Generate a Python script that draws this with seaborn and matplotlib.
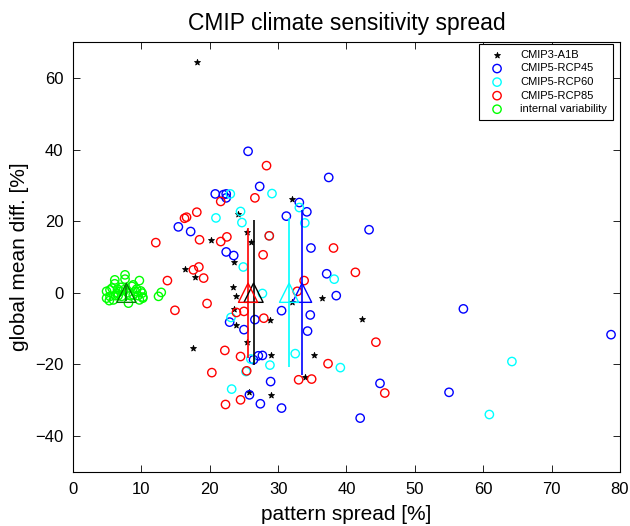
#%% import required libraries
import numpy as np
import pandas as pd
import matplotlib
matplotlib.use("Agg")
import matplotlib.pyplot as plt
import seaborn as sns

##############################################################################
# data
##############################################################################

# CMIP3-A1B
cmip3_x = [18.2, 32.1, 24.1, 25.4, 20.2, 26.1, 23.6, 16.4, 17.8, 23.4, 23.9, 23.6,
           23.9, 28.8, 25.4, 17.6, 28.9, 25.8, 28.9, 32.0, 36.4, 42.2, 35.2, 33.9]
cmip3_y = [64.5, 26.1, 22.0, 17.0, 14.8, 14.3, 8.7, 6.6, 4.4, 1.5, -1.0, -4.5,
           -9.1, -7.5, -13.8, -15.5, -17.5, -27.6, -28.5, -2.7, -1.6, -7.3, -17.3, -23.4]

# CMIP5-RCP45
rcp45_x = [25.6, 27.3, 20.8, 22.0, 22.4, 22.4, 37.4, 15.4, 17.2, 22.4, 23.5, 31.2,
           30.5, 22.9, 26.6, 25.0, 27.1, 27.7, 26.4, 28.9, 25.8, 27.4, 30.5, 33.1,
           34.2, 43.3, 34.8, 37.1, 38.5, 34.7, 34.3, 44.9, 42.0, 57.1, 78.7, 55.0]
rcp45_y = [39.5, 29.7, 27.6, 27.4, 27.6, 26.5, 32.2, 18.4, 17.1, 11.4, 10.4, 21.4,
           -5.0, -8.2, -7.5, -10.3, -17.6, -17.5, -18.7, -24.8, -28.5, -31.0, -32.2, 25.2,
           22.6, 17.6, 12.5, 5.3, -0.8, -6.2, -10.7, -25.3, -35.0, -4.5, -11.7, -27.8]

# CMIP5-RCP60
rcp60_x = [23.0, 29.1, 20.9, 24.5, 24.7, 28.7, 24.9, 27.7, 23.1, 32.5,
           26.0, 28.8, 25.3, 23.2, 33.1, 33.9, 38.2, 39.1, 64.2, 60.9]
rcp60_y = [27.6, 27.7, 20.9, 22.7, 19.6, 15.9, 7.2, -0.2, -6.9, -17.0,
           -18.5, -20.2, -22.0, -26.9, 23.8, 19.5, 3.8, -20.9, -19.2, -34.0]

# CMIP5-RCP85
rcp85_x = [28.3, 21.6, 26.6, 18.1, 16.3, 16.6, 18.5, 21.6, 22.5, 28.7, 27.8, 17.6,
           18.4, 19.1, 13.8, 19.6, 14.9, 23.9, 25.0, 27.9, 22.2, 24.5, 20.3, 25.4,
           24.5, 22.3, 33.0, 38.1, 41.3, 33.8, 32.8, 44.3, 37.3, 34.9, 45.6, 12.1]
rcp85_y = [35.5, 25.5, 26.5, 22.5, 20.8, 21.1, 14.8, 14.3, 15.6, 15.9, 10.6, 6.4,
           7.2, 4.1, 3.4, -3.0, -4.9, -5.5, -5.2, -7.1, -16.1, -17.8, -22.3, -21.8,
           -29.9, -31.2, -24.3, 12.5, 5.7, 3.4, 0.4, -13.8, -19.8, -24.1, -28.0, 14.0]

# internal variability
ivar_x = [6.1, 7.6, 7.6, 9.7, 6.1, 5.4, 4.9, 5.7, 8.6, 9.3, 10.1, 10.2,
          9.5, 8.8, 5.3, 5.9, 6.6, 8.1, 12.5, 12.9, 6.9, 6.4, 7.4, 8.4,
          9.1, 7.1, 5.4, 4.9, 9.7, 6.2, 8.8, 10.2, 7.0, 8.0, 6.5, 9.9]
ivar_y = [3.6, 5.0, 3.8, 3.4, 2.5, 0.8, 0.4, 1.3, 1.8, 1.0, -0.1, -1.2,
          -0.8, -0.6, -2.2, -2.0, -0.8, -2.9, -1.0, 0.1, 0.4, -0.1, 0.8, -0.8,
          0.4, -1.0, -1.0, -1.5, -2.0, -0.8, 2.2, -1.5, 1.5, 0.0, 1.0, 0.5]

# ensemble means (triangles) and spread (vertical bars)
groups = ["CMIP3-A1B", "CMIP5-RCP45", "CMIP5-RCP60", "CMIP5-RCP85", "internal variability"]
mean_x = [26.4, 33.5, 31.6, 25.6, 7.8]
mean_y = [0.0, 0.0, 0.0, 0.0, 0.0]
std_y = [20.3, 23.0, 20.8, 18.2, 2.2]

##############################################################################
# settings
##############################################################################
colors = ["black", "blue", "cyan", "red", "lime"]
mean_colors = ["black", "blue", "cyan", "red", (0, 0.5, 0)]
markers = ["*", "o", "o", "o", "o"]

sns.set_theme(style="ticks")
plt.rcParams["font.family"] = ["Liberation Sans", "DejaVu Sans"]
plt.rcParams["text.color"] = "black"
plt.rcParams["axes.labelcolor"] = "black"

df = pd.concat([
    pd.DataFrame({"x": cmip3_x, "y": cmip3_y, "group": groups[0]}),
    pd.DataFrame({"x": rcp45_x, "y": rcp45_y, "group": groups[1]}),
    pd.DataFrame({"x": rcp60_x, "y": rcp60_y, "group": groups[2]}),
    pd.DataFrame({"x": rcp85_x, "y": rcp85_y, "group": groups[3]}),
    pd.DataFrame({"x": ivar_x, "y": ivar_y, "group": groups[4]}),
])
means = pd.DataFrame({"x": mean_x, "y": mean_y, "std": std_y, "group": groups})

##############################################################################
# PLOT
##############################################################################
fig = plt.figure(figsize=(6.3, 5.26), dpi=100)
ax = fig.add_axes([0.116, 0.103, 0.868, 0.817])

for g, c, m in zip(groups, colors, markers):
    sub = df[df["group"] == g]
    if m == "*":
        sns.scatterplot(data=sub, x="x", y="y", marker="*", color=c,
                        edgecolor=c, s=20, linewidth=0.6, label=g, ax=ax, zorder=3)
    else:
        sns.scatterplot(data=sub, x="x", y="y", marker="o", color=c,
                        facecolors="none", edgecolor=c, s=36, linewidth=1.0,
                        label=g, ax=ax, zorder=3)

# spread bars and mean triangles
for i, row in means.iterrows():
    ax.vlines(row["x"], row["y"] - row["std"], row["y"] + row["std"],
              color=mean_colors[i], linewidth=1.2, zorder=4)
    sns.scatterplot(x=[row["x"]], y=[row["y"]], marker="^", color=mean_colors[i],
                    facecolors="none", edgecolor=mean_colors[i], s=190,
                    linewidth=1.0, ax=ax, zorder=5, legend=False)

# layout
ax.set_xlim(0, 80)
ax.set_ylim(-50, 70)
ax.set_xticks(np.arange(0, 81, 10))
ax.set_yticks(np.arange(-40, 61, 20))
ax.tick_params(direction="in", top=True, right=True, length=5, width=0.6,
               labelsize=12, colors="black", pad=7)
for sp in ax.spines.values():
    sp.set_visible(True)
    sp.set_linewidth(0.8)
    sp.set_color("black")

ax.set_xlabel("pattern spread [%]", fontsize=15, labelpad=6, color="black")
ax.set_ylabel("global mean diff. [%]", fontsize=15, labelpad=4, color="black")
ax.set_title("CMIP climate sensitivity spread", fontsize=16.5, pad=9, color="black")

leg = ax.legend(loc="upper right", bbox_to_anchor=(0.988, 0.996), borderaxespad=0,
                fontsize=8, frameon=True, fancybox=False, edgecolor="black",
                handletextpad=1.0, borderpad=0.55, labelspacing=0.32,
                handlelength=2.2, markerscale=1.0)
leg.get_frame().set_linewidth(0.8)
leg.get_frame().set_alpha(1)
for t in leg.get_texts():
    t.set_color("black")

fig.savefig("out.png", dpi=100)
